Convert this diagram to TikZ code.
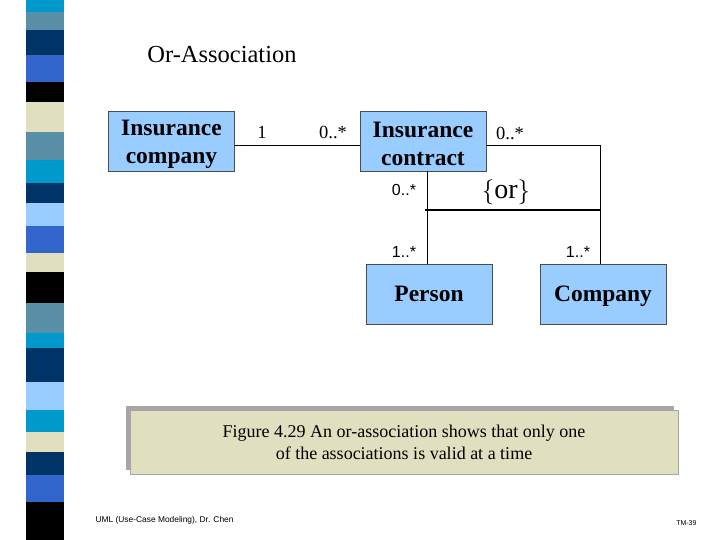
\documentclass[tikz,border=0pt]{standalone}
\usepackage{fontspec}
\setmainfont{Liberation Serif}
\setsansfont{Liberation Sans}
\begin{document}
\begin{tikzpicture}[x=1pt,y=-1pt,
 cls/.style={draw=black!70,fill=boxblue,minimum width=126pt,minimum height=60pt,inner sep=0pt,align=center,font=\bfseries\fontsize{23.5}{28}\selectfont},
 mult/.style={font=\fontsize{18.5}{20}\selectfont,inner sep=1pt},
 smult/.style={font=\sffamily\fontsize{16}{18}\selectfont,inner sep=1pt}]
\definecolor{boxblue}{HTML}{99CCFF}
\definecolor{cya}{HTML}{0099CC}
\definecolor{stl}{HTML}{5A8FA8}
\definecolor{nav}{HTML}{003366}
\definecolor{blu}{HTML}{3366CC}
\definecolor{bei}{HTML}{E0E0C0}
\definecolor{lbl}{HTML}{99CCFF}
\useasboundingbox (0,0) rectangle (720,540);
\fill[white] (0,0) rectangle (720,540);
\foreach \a/\b/\c in {0/12/cya,12/30/stl,30/55/nav,55/82/blu,82/102/black,102/132/bei,132/160/stl,160/183/cya,183/203/nav,203/226/lbl,226/253/blu,253/272/bei,272/303/black,303/333/stl,333/348/cya,348/382/nav,382/410/lbl,410/432/cya,432/452/bei,452/475/nav,475/502/blu,502/540/black}
  \fill[\c] (26,\a) rectangle (64,\b);
\node[font=\fontsize{24.5}{28}\selectfont] (title) at (222,55) {Or-Association};
\node[cls] (ic) at (171.5,141) {\rule{0pt}{22pt}Insurance\\company};
\node[cls] (ct) at (423,141) {\rule{0pt}{22pt}Insurance\\contract};
\node[cls] (p) at (429,294) {\rule{0pt}{20pt}Person\vphantom{y}};
\node[cls] (c) at (603,294) {\rule{0pt}{20pt}Company};
\coordinate (cr) at (600,145);
\draw (ic.east|-0,145) -- (ct.west|-0,145);
\draw (ct.east|-0,145) -- (cr) -- (c.north-|cr);
\draw (ct.south-|427,0) -- (p.north-|427,0);
\coordinate (o1) at (425,210);
\coordinate (o2) at (600,210);
\draw[line width=1.6pt] (o1) -- (o2);
\node[font=\fontsize{28}{30}\selectfont] (or) at (506,192) {$\{$or$\}$};
\node[mult] at (262,132) {1};
\node[mult] at (333,132) {0..*};
\node[mult] at (510,133) {0..*};
\node[smult] at (404,190) {0..*};
\node[smult] at (404,252) {1..*};
\node[smult] at (578,252) {1..*};
\fill[gray!70] (126,406) rectangle (674,470);
\node[draw=gray!70,fill=bei,minimum width=548pt,minimum height=64pt,align=center,font=\fontsize{18}{22}\selectfont] (cap) at (404,442) {Figure 4.29 An or-association shows that only one\\of the associations is valid at a time};
\node[font=\sffamily\fontsize{8.4}{10}\selectfont,anchor=west] (ft) at (92,520) {UML (Use-Case Modeling), Dr. Chen};
\node[font=\sffamily\fontsize{7}{8}\selectfont,anchor=east] (pg) at (700,523) {TM-39};
\end{tikzpicture}
\end{document}
